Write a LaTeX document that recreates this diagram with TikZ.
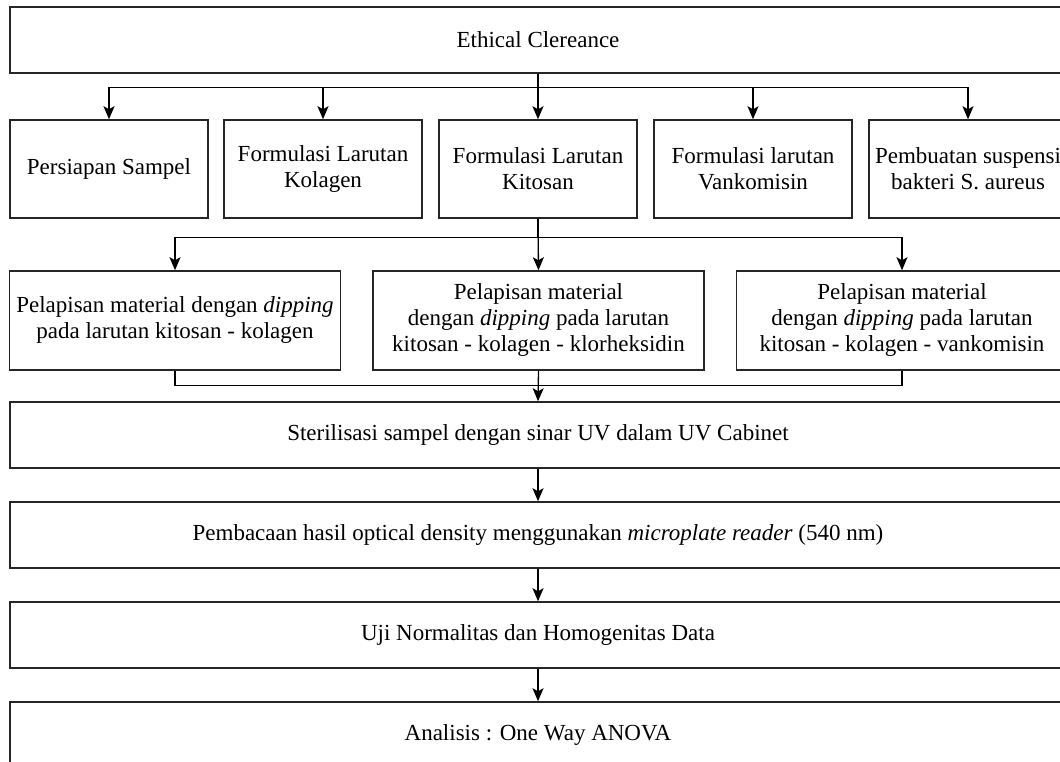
\documentclass[tikz,border=0pt]{standalone}
\usepackage{fontspec}
\setmainfont{Liberation Serif}
\usetikzlibrary{arrows.meta}

\begin{document}
\begin{tikzpicture}[x=1pt, y=-1pt,
    box/.style={draw=black!85, line width=1.5pt, rectangle, inner sep=0pt,
        align=center, font=\fontsize{23}{26}\selectfont},
    wide/.style={box, minimum width=1056, minimum height=66},
    small/.style={box, minimum width=198, minimum height=98},
    mid/.style={box, minimum width=331, minimum height=99},
    arrow/.style={line width=1.3pt, -{Stealth[length=13pt, width=11pt, inset=3pt]}},
    link/.style={line width=1.3pt}]
    \useasboundingbox (0, 0) rectangle (1060, 762);
    \clip (0, 0) rectangle (1060, 762);

    \node[wide] (ethic) at (538, 40) {Ethical Clereance};

    \node[small] (sampel) at (109, 169) {Persiapan Sampel};
    \node[small] (kolagen) at (323, 169) {Formulasi Larutan\\Kolagen};
    \node[small] (kitosan) at (538, 169) {Formulasi Larutan\\Kitosan};
    \node[small] (vanko) at (753, 169) {Formulasi larutan\\Vankomisin};
    \node[small] (bakteri) at (968, 169) {Pembuatan suspensi\\bakteri S. aureus};

    \node[mid] (lapis1) at (175, 320.5) {Pelapisan material dengan \textit{dipping}\\pada larutan kitosan - kolagen};
    \node[mid] (lapis2) at (538.5, 320.5) {Pelapisan material\\dengan \textit{dipping} pada larutan\\kitosan - kolagen - klorheksidin};
    \node[mid] (lapis3) at (902, 320.5) {Pelapisan material\\dengan \textit{dipping} pada larutan\\kitosan - kolagen - vankomisin};

    \node[wide] (steril) at (538, 435) {Sterilisasi sampel dengan sinar UV dalam UV Cabinet};
    \node[wide] (baca) at (538, 535) {Pembacaan hasil optical density menggunakan \textit{microplate reader} (540 nm)};
    \node[wide] (uji) at (538, 635) {Uji Normalitas dan Homogenitas Data};
    \node[wide] (anova) at (538, 735) {Analisis : One Way ANOVA};

    % ethical clearance to the preparations
    \draw[arrow] (ethic.south) -- (kitosan.north);
    \foreach \n in {sampel, kolagen, vanko, bakteri} {
        \draw[arrow] (ethic.south) -- ++(0, 14) -| (\n.north);
    }

    % preparations to coating
    \draw[arrow] (kitosan.south) -- (lapis2.north);
    \foreach \n in {lapis1, lapis3} {
        \draw[arrow] (kitosan.south) -- ++(0, 19) -| (\n.north);
    }

    % coating to sterilisation
    \draw[link] (lapis1.south) -- ++(0, 15) -| (lapis3.south);
    \draw[arrow] (lapis2.south) -- (steril.north);

    \draw[arrow] (steril) -- (baca);
    \draw[arrow] (baca) -- (uji);
    \draw[arrow] (uji) -- (anova);
\end{tikzpicture}
\end{document}
